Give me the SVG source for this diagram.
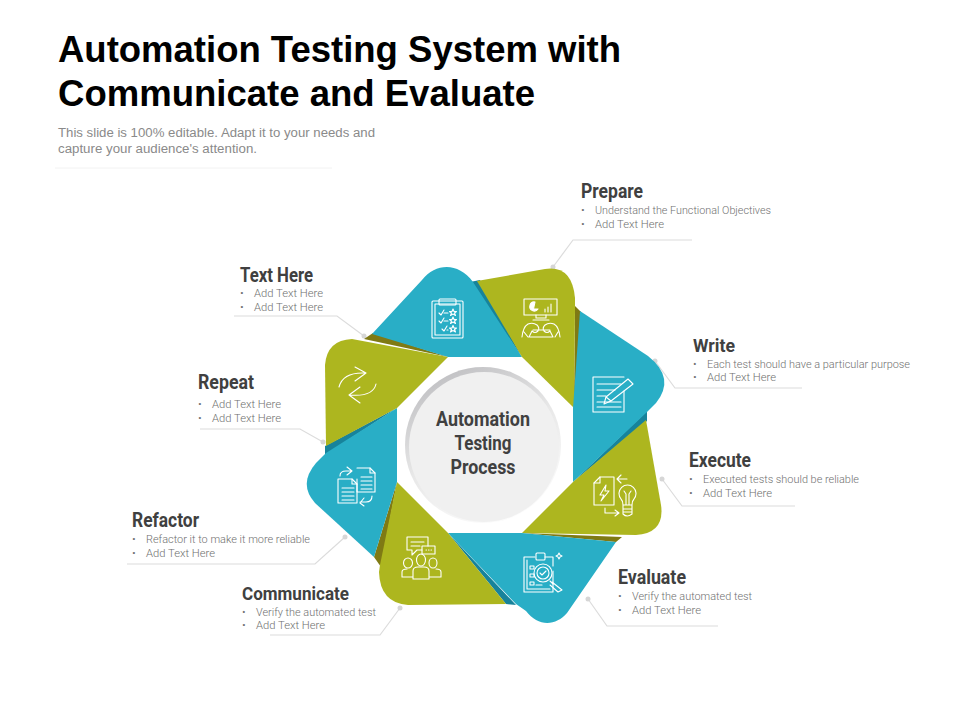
<svg xmlns="http://www.w3.org/2000/svg" width="960" height="720" viewBox="0 0 960 720">
<style>
.t{font-family:"Liberation Sans",Arial,sans-serif;font-weight:700;font-size:36px;fill:#000}
.s{font-family:"Liberation Sans",Arial,sans-serif;font-size:12.5px;fill:#8a8a8a}
.h{font-family:Roboto,"Liberation Sans",sans-serif;font-weight:700;font-size:20px;fill:#404040}
.h2{font-size:18.5px}
.b{font-family:Roboto,"Liberation Sans",sans-serif;font-size:11.5px;font-weight:300;fill:#707070}
.b2{font-size:11px}
.c{font-family:Roboto,"Liberation Sans",sans-serif;font-weight:700;font-size:20px;fill:#404040;text-anchor:middle}
.teal{fill:#29aec6}.olive{fill:#adb61f}.dt{fill:#17839b}.dol{fill:#7f7a14}
.ln{fill:none;stroke:#dcdcdc;stroke-width:1.2}.dot{fill:#d6d6d6}
.i{fill:none;stroke:#fff;stroke-width:1.1;stroke-linejoin:round;stroke-linecap:round}
</style>
<defs><linearGradient id="rim" x1="0.2" y1="0" x2="0.7" y2="1"><stop offset="0" stop-color="#bdbdc0"/><stop offset="0.5" stop-color="#e8e8e8"/><stop offset="1" stop-color="#fdfdfd"/></linearGradient></defs>

<g id="title">
<text class="t" x="58" y="62" textLength="563" lengthAdjust="spacingAndGlyphs">Automation Testing System with</text>
<text class="t" x="58" y="106" textLength="477" lengthAdjust="spacingAndGlyphs">Communicate and Evaluate</text>
<text class="s" x="58" y="137" textLength="317" lengthAdjust="spacingAndGlyphs">This slide is 100% editable. Adapt it to your needs and</text>
<text class="s" x="58" y="153" textLength="199" lengthAdjust="spacingAndGlyphs">capture your audience's attention.</text>
<path d="M55 168H332" stroke="#f2f2f2" stroke-width="1"/>
</g>

<g id="connectors">
<path class="ln" d="M553 267L573 240H692"/><circle class="dot" cx="553" cy="267" r="2.5"/>
<path class="ln" d="M655 361L675 388H802"/><circle class="dot" cx="655" cy="361" r="2.5"/>
<path class="ln" d="M662 479L682 506H795"/><circle class="dot" cx="662" cy="479" r="2.5"/>
<path class="ln" d="M588 599L607 626H718"/><circle class="dot" cx="588" cy="599" r="2.5"/>
<path class="ln" d="M400 608L380 635H270"/><circle class="dot" cx="400" cy="608" r="2.5"/>
<path class="ln" d="M345 537L315 564H127"/><circle class="dot" cx="345" cy="537" r="2.5"/>
<path class="ln" d="M323 442L300 429H200"/><circle class="dot" cx="323" cy="442" r="2.5"/>
<path class="ln" d="M364 336L337 316H234"/><circle class="dot" cx="364" cy="336" r="2.5"/>
</g>

<g id="shadows">
<path class="dt" d="M470 282L480 280L522 357Z"/>
<path class="dol" d="M575 306L581 312L574 408Z"/>
<path class="dt" d="M647 411L647 421L573 482Z"/>
<path class="dol" d="M522 533L622 537L616 542Z"/>
<path class="dt" d="M448 533L516 605L506 604Z"/>
<path class="dol" d="M374 557L381 567L397 482Z"/>
<path class="dt" d="M397 408L325 446L325 455Z"/>
<path class="dol" d="M364 339L373 333L448 357Z"/>
</g>

<g id="node-text-here">
<path class="teal" d="M372 334L422 280C436 263 458 262 473 282L522 357H448Z"/>
<g class="i"><rect x="432" y="301" width="31" height="37" rx="1"/><rect x="435" y="304" width="25" height="31"/><rect x="439" y="299" width="17" height="6" rx="1"/>
<path d="M439 313l2 2 3-5M444 313h4M439 321l2 2 3-5M444 321h4M442 329l2 2 3-5M447 330h1"/>
<path d="M453 309l1 2.500h2.500l-2 1.500 1 2.500-2.500-1.500-2.500 1.500 1-2.500-2-1.500h2.500ZM453 317l1 2.500h2.500l-2 1.500 1 2.500-2.500-1.500-2.500 1.500 1-2.500-2-1.500h2.500ZM453 325.500l1 2.500h2.500l-2 1.500 1 2.500-2.500-1.500-2.500 1.500 1-2.500-2-1.500h2.500Z"/></g>
</g>

<g id="node-prepare">
<path class="olive" d="M477 281L545 269Q572 265 575 298V310L574 408L522 357Z"/>
<g class="i"><rect x="524" y="299" width="33" height="16"/><path d="M535 302a4.500 4.500 0 1 0 3 7h-4.500Z" fill="#fff"/><path d="M545 312v-3M548 312v-5M551 312v-8"/><path d="M536 315v3h10v-3M533 320h16"/>
<path d="M522 337Q523 327 528 324Q533 322 537 325Q540 328 538 331Q535 334 532 331M533 330H550M529 337L532 331M524 332L528 337M560 337Q559 327 554 324Q549 322 545 325Q542 328 544 331Q547 334 550 331M553 337L550 331M558 332L555 337M530 337H552"/></g>
</g>

<g id="node-write">
<path class="teal" d="M580 311L648 356Q676 378 656 403L647 412L573 482V408Z"/>
<g class="i" stroke-width="1.5"><path d="M624 391V412H593V377H624"/><path d="M597 384H621M597 390H615M597 396H606M597 402H621M597 407H621"/><path d="M628 379L633 384L611 401L604 404L606 397Z"/><path d="M606 397L611 401"/></g>
</g>

<g id="node-execute">
<path class="olive" d="M646 420L661 505Q665 533 636 535L522 533L573 482Z"/>
<g class="i"><path d="M600 477H614V505H594V483Z"/><path d="M600 477V483H594"/><path d="M606 485L600 495H604L601 501L609 491H605Z"/>
<path d="M623 505Q623 501 621 499A8.500 8.500 0 1 1 634 499Q632 501 632 505ZM623 505V514Q627 518 632 514V505M623 509H632M623 512H632M626 505V494L624 491M629 505V494L631 491"/>
<path d="M627 479H617M621 475L617 479L621 483M605 508V513H619M615 510L619 513L615 516"/></g>
</g>

<g id="node-evaluate">
<path class="teal" d="M448 533H522L616 542L567 613C556 626 538 627 526 611L516 604Z"/>
<g class="i" stroke-width="1"><path d="M535 557H524V592H553V571M545 557H553V566"/><path d="M527 560V589H550"/><rect x="536" y="553" width="9" height="7" rx="1"/>
<rect x="530" y="566" width="4" height="3"/><rect x="530" y="574" width="4" height="3"/><rect x="530" y="582" width="4" height="3"/><path d="M536 585H542"/>
<circle cx="543" cy="573" r="9"/><circle cx="543" cy="573" r="6"/><path d="M540 573l2 2 4-4M550 581L553 584M552 582L562 590L558 592L550 585"/><path d="M559 553l1 2 2 1-2 1-1 2-1-2-2-1 2-1Z"/></g>
</g>

<g id="node-communicate">
<path class="olive" d="M397 482L448 533L506 604L408 605Q380 603 379 572L380 565Z"/>
<g class="i"><path d="M407 537H428V546M422 550H417L412 555V550H407V537"/><path d="M411 542H424M411 546H420"/><rect x="422" y="546" width="13" height="8"/><path d="M426 550h.5M428.500 550h.5M431 550h.5"/>
<ellipse cx="408" cy="563" rx="4.500" ry="5"/><ellipse cx="421" cy="560" rx="4.500" ry="6"/><ellipse cx="433" cy="563" rx="4" ry="5"/>
<path d="M413 577H402V572Q402 569 407 569M413 579V571Q413 567 418 567H424Q429 567 429 571V579ZM429 577H441V572Q441 569 436 569"/></g>
</g>

<g id="node-refactor">
<path class="teal" d="M397 408V482L374 557L315 503Q298 484 316 463L326 453Z"/>
<g class="i"><path d="M338 479H352L357 484V503H338Z"/><path d="M352 479L352 484H357M342 488H354M342 492H354M342 496H354M342 500H354"/><path d="M357 468H370L375 473V492H357V479"/><path d="M370 468V473H375M361 477H372M361 481H372M361 485H372M361 489H372"/>
<path d="M340 476Q340 471 346 471H351M347 467L352 471L347 475"/><path d="M372 496Q372 502 366 502H360M364 498L360 503L364 506"/></g>
</g>

<g id="node-repeat">
<path class="olive" d="M325 365Q327 340 352 339L448 357L397 408L326 446Z"/>
<g class="i" stroke-width="1.500"><path d="M339 387Q343 372 365 373M355 367L366 373L355 381"/><path d="M376 384Q373 397 350 395M360 387L349 395L360 403"/></g>
</g>

<g id="center">
<circle cx="483" cy="445" r="78" fill="url(#rim)"/>
<circle cx="484" cy="447" r="75" fill="#f0f0f0"/>
<text class="c" x="483" y="426" textLength="94" lengthAdjust="spacingAndGlyphs">Automation</text>
<text class="c" x="483" y="450" textLength="57" lengthAdjust="spacingAndGlyphs">Testing</text>
<text class="c" x="483" y="474" textLength="65" lengthAdjust="spacingAndGlyphs">Process</text>
</g>

<g id="label-prepare"><text class="h" x="581" y="198" textLength="62" lengthAdjust="spacingAndGlyphs">Prepare</text><text class="b" x="581" y="214">•</text><text class="b" x="595" y="214" textLength="176" lengthAdjust="spacingAndGlyphs">Understand the Functional Objectives</text><text class="b" x="581" y="228">•</text><text class="b" x="595" y="228" textLength="69" lengthAdjust="spacingAndGlyphs">Add Text Here</text></g>
<g id="label-write"><text class="h h2" x="693" y="352" textLength="42" lengthAdjust="spacingAndGlyphs">Write</text><text class="b b2" x="693" y="367.500">•</text><text class="b b2" x="707" y="367.500" textLength="203" lengthAdjust="spacingAndGlyphs">Each test should have a particular purpose</text><text class="b" x="693" y="381">•</text><text class="b" x="707" y="381" textLength="69" lengthAdjust="spacingAndGlyphs">Add Text Here</text></g>
<g id="label-execute"><text class="h" x="689" y="467" textLength="62" lengthAdjust="spacingAndGlyphs">Execute</text><text class="b" x="689" y="483">•</text><text class="b" x="703" y="483" textLength="156" lengthAdjust="spacingAndGlyphs">Executed tests should be reliable</text><text class="b" x="689" y="497">•</text><text class="b" x="703" y="497" textLength="69" lengthAdjust="spacingAndGlyphs">Add Text Here</text></g>
<g id="label-evaluate"><text class="h" x="618" y="584" textLength="68" lengthAdjust="spacingAndGlyphs">Evaluate</text><text class="b" x="618" y="600">•</text><text class="b" x="632" y="600" textLength="120" lengthAdjust="spacingAndGlyphs">Verify the automated test</text><text class="b" x="618" y="614">•</text><text class="b" x="632" y="614" textLength="69" lengthAdjust="spacingAndGlyphs">Add Text Here</text></g>
<g id="label-communicate"><text class="h h2" x="242" y="600" textLength="107" lengthAdjust="spacingAndGlyphs">Communicate</text><text class="b b2" x="242" y="615.500">•</text><text class="b b2" x="256" y="615.500" textLength="120" lengthAdjust="spacingAndGlyphs">Verify the automated test</text><text class="b" x="242" y="629">•</text><text class="b" x="256" y="629" textLength="69" lengthAdjust="spacingAndGlyphs">Add Text Here</text></g>
<g id="label-refactor"><text class="h" x="132" y="527" textLength="67" lengthAdjust="spacingAndGlyphs">Refactor</text><text class="b" x="132" y="543">•</text><text class="b" x="146" y="543" textLength="164" lengthAdjust="spacingAndGlyphs">Refactor it to make it more reliable</text><text class="b" x="132" y="557">•</text><text class="b" x="146" y="557" textLength="69" lengthAdjust="spacingAndGlyphs">Add Text Here</text></g>
<g id="label-repeat"><text class="h" x="198" y="389" textLength="56" lengthAdjust="spacingAndGlyphs">Repeat</text><text class="b" x="198" y="408">•</text><text class="b" x="212" y="408" textLength="69" lengthAdjust="spacingAndGlyphs">Add Text Here</text><text class="b" x="198" y="422">•</text><text class="b" x="212" y="422" textLength="69" lengthAdjust="spacingAndGlyphs">Add Text Here</text></g>
<g id="label-text-here"><text class="h" x="240" y="281.500" textLength="73" lengthAdjust="spacingAndGlyphs">Text Here</text><text class="b" x="240" y="297">•</text><text class="b" x="254" y="297" textLength="69" lengthAdjust="spacingAndGlyphs">Add Text Here</text><text class="b" x="240" y="311">•</text><text class="b" x="254" y="311" textLength="69" lengthAdjust="spacingAndGlyphs">Add Text Here</text></g>
</svg>
